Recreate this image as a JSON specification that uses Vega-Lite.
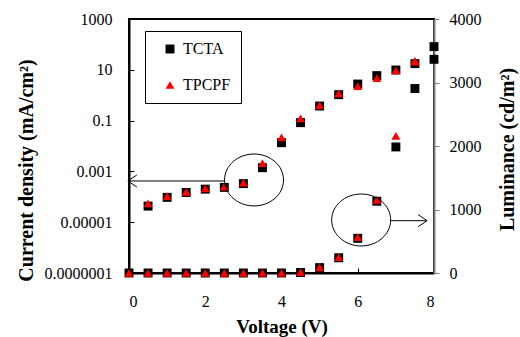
{
  "$schema": "https://vega.github.io/schema/vega-lite/v6.json",
  "width": 305,
  "height": 254,
  "autosize": {"type": "none"},
  "padding": {"left": 129, "top": 19, "right": 86, "bottom": 64},
  "config": {
    "font": "Liberation Serif",
    "view": {"stroke": "black", "strokeWidth": 2},
    "axis": {
      "grid": false,
      "labelFont": "Liberation Serif",
      "labelFontSize": 16,
      "labelColor": "black",
      "titleFont": "Liberation Serif",
      "titleFontSize": 19,
      "titleFontWeight": "bold",
      "titleColor": "black",
      "domainColor": "black",
      "domainWidth": 2,
      "tickColor": "black",
      "tickWidth": 1
    },
    "legend": {
      "title": null,
      "labelFont": "Liberation Serif",
      "labelFontSize": 16,
      "labelColor": "black",
      "strokeColor": "black",
      "fillColor": "white",
      "padding": 10,
      "symbolOffset": 7,
      "rowPadding": 20,
      "symbolSize": 80,
      "symbolStrokeWidth": 0,
      "labelOffset": 5
    }
  },
  "datasets": {
    "current": [
      {"V": 0.5, "J": 4.3e-5, "series": "TCTA"},
      {"V": 1.0, "J": 9.5e-5, "series": "TCTA"},
      {"V": 1.5, "J": 1.48e-4, "series": "TCTA"},
      {"V": 2.0, "J": 2.0e-4, "series": "TCTA"},
      {"V": 2.5, "J": 2.35e-4, "series": "TCTA"},
      {"V": 3.0, "J": 3.3e-4, "series": "TCTA"},
      {"V": 3.5, "J": 1.4e-3, "series": "TCTA"},
      {"V": 4.0, "J": 0.0135, "series": "TCTA"},
      {"V": 4.5, "J": 0.083, "series": "TCTA"},
      {"V": 5.0, "J": 0.376, "series": "TCTA"},
      {"V": 5.5, "J": 1.05, "series": "TCTA"},
      {"V": 6.0, "J": 2.75, "series": "TCTA"},
      {"V": 6.5, "J": 5.9, "series": "TCTA"},
      {"V": 7.0, "J": 9.8, "series": "TCTA"},
      {"V": 7.5, "J": 17.5, "series": "TCTA"},
      {"V": 8.0, "J": 25.9, "series": "TCTA"},
      {"V": 0.5, "J": 5.5e-5, "series": "TPCPF"},
      {"V": 1.0, "J": 1.07e-4, "series": "TPCPF"},
      {"V": 1.5, "J": 1.58e-4, "series": "TPCPF"},
      {"V": 2.0, "J": 2.16e-4, "series": "TPCPF"},
      {"V": 2.5, "J": 2.5e-4, "series": "TPCPF"},
      {"V": 3.0, "J": 3.6e-4, "series": "TPCPF"},
      {"V": 3.5, "J": 2.1e-3, "series": "TPCPF"},
      {"V": 4.0, "J": 0.022, "series": "TPCPF"},
      {"V": 4.5, "J": 0.123, "series": "TPCPF"},
      {"V": 5.0, "J": 0.41, "series": "TPCPF"},
      {"V": 5.5, "J": 1.17, "series": "TPCPF"},
      {"V": 6.0, "J": 2.3, "series": "TPCPF"},
      {"V": 6.5, "J": 4.75, "series": "TPCPF"},
      {"V": 7.0, "J": 9.5, "series": "TPCPF"},
      {"V": 7.5, "J": 21, "series": "TPCPF"}
    ],
    "luminance": [
      {"V": 0.0, "L": 0, "series": "TCTA"},
      {"V": 0.5, "L": 0, "series": "TCTA"},
      {"V": 1.0, "L": 0, "series": "TCTA"},
      {"V": 1.5, "L": 0, "series": "TCTA"},
      {"V": 2.0, "L": 0, "series": "TCTA"},
      {"V": 2.5, "L": 0, "series": "TCTA"},
      {"V": 3.0, "L": 0, "series": "TCTA"},
      {"V": 3.5, "L": 0, "series": "TCTA"},
      {"V": 4.0, "L": 0, "series": "TCTA"},
      {"V": 4.5, "L": 8, "series": "TCTA"},
      {"V": 5.0, "L": 85, "series": "TCTA"},
      {"V": 5.5, "L": 240, "series": "TCTA"},
      {"V": 6.0, "L": 546, "series": "TCTA"},
      {"V": 6.5, "L": 1130, "series": "TCTA"},
      {"V": 7.0, "L": 1985, "series": "TCTA"},
      {"V": 7.5, "L": 2905, "series": "TCTA"},
      {"V": 8.0, "L": 3565, "series": "TCTA"},
      {"V": 0.0, "L": 0, "series": "TPCPF"},
      {"V": 0.5, "L": 0, "series": "TPCPF"},
      {"V": 1.0, "L": 0, "series": "TPCPF"},
      {"V": 1.5, "L": 0, "series": "TPCPF"},
      {"V": 2.0, "L": 0, "series": "TPCPF"},
      {"V": 2.5, "L": 0, "series": "TPCPF"},
      {"V": 3.0, "L": 0, "series": "TPCPF"},
      {"V": 3.5, "L": 0, "series": "TPCPF"},
      {"V": 4.0, "L": 0, "series": "TPCPF"},
      {"V": 4.5, "L": 12, "series": "TPCPF"},
      {"V": 5.0, "L": 90, "series": "TPCPF"},
      {"V": 5.5, "L": 250, "series": "TPCPF"},
      {"V": 6.0, "L": 565, "series": "TPCPF"},
      {"V": 6.5, "L": 1150, "series": "TPCPF"},
      {"V": 7.0, "L": 2160, "series": "TPCPF"},
      {"V": 7.5, "L": 3340, "series": "TPCPF"}
    ],
    "ellipseJ": [{"V": 3.28, "J": 4.6e-4}],
    "arrowJ": [{"V": 2.5, "V2": 0.0, "J": 4.2e-4}],
    "headJ": [{"V": -0.03, "J": 4.2e-4}],
    "ellipseL": [{"V": 6.09, "L": 835}],
    "arrowL": [{"V": 6.87, "V2": 7.8, "L": 824}],
    "headL": [{"V": 7.82, "L": 824}]
  },
  "encoding": {
    "x": {
      "field": "V",
      "type": "quantitative",
      "scale": {"domain": [0, 8], "nice": false, "zero": false},
      "axis": {
        "values": [0, 2, 4, 6, 8],
        "format": "d",
        "tickSize": -5,
        "labelPadding": 25,
        "labelFont": "Liberation Serif",
        "labelFontSize": 16,
        "title": "Voltage (V)",
        "titleFont": "Liberation Serif",
        "titlePadding": 8
      }
    }
  },
  "layer": [
    {
      "encoding": {
        "y": {
          "field": "J",
          "type": "quantitative",
          "scale": {"type": "log", "domain": [1e-7, 1000], "nice": false},
          "axis": {
            "orient": "left",
            "values": [1e-7, 1e-5, 0.001, 0.1, 10, 1000],
            "format": ".7~f",
            "tickSize": -5,
            "labelPadding": 22,
            "labelFont": "Liberation Serif",
            "labelFontSize": 16,
            "title": "Current density (mA/cm²)",
            "titleFont": "Liberation Serif",
            "titleFontSize": 20,
            "titleY": 151,
            "titlePadding": 8
          }
        }
      },
      "layer": [
        {
          "data": {"name": "current"},
          "mark": {"type": "point", "filled": true, "opacity": 1, "size": 80},
          "encoding": {
            "color": {
              "field": "series",
              "type": "nominal",
              "scale": {"domain": ["TCTA", "TPCPF"], "range": ["#000000", "#ff0000"]},
              "legend": {"orient": "none", "legendX": 16, "legendY": 12}
            },
            "shape": {
              "field": "series",
              "type": "nominal",
              "scale": {"domain": ["TCTA", "TPCPF"], "range": ["square", "triangle-up"]},
              "legend": {"orient": "none", "legendX": 16, "legendY": 12}
            }
          }
        },
        {
          "data": {"name": "ellipseJ"},
          "mark": {"type": "point", "shape": "M-1,0C-1,-0.486,-0.552,-0.88,0,-0.88C0.552,-0.88,1,-0.486,1,0C1,0.486,0.552,0.88,0,0.88C-0.552,0.88,-1,0.486,-1,0Z", "size": 3481, "filled": false, "stroke": "black", "strokeWidth": 1, "opacity": 1}
        },
        {
          "data": {"name": "arrowJ"},
          "mark": {"type": "rule", "color": "black", "strokeWidth": 1},
          "encoding": {"x2": {"field": "V2"}}
        },
        {
          "data": {"name": "headJ"},
          "mark": {"type": "point", "shape": "M1.5,-1L0,0L1.5,1", "size": 144, "filled": false, "stroke": "black", "strokeWidth": 1, "opacity": 1}
        }
      ]
    },
    {
      "encoding": {
        "y": {
          "field": "L",
          "type": "quantitative",
          "scale": {"domain": [0, 4000], "nice": false},
          "axis": {
            "orient": "right",
            "values": [0, 1000, 2000, 3000, 4000],
            "format": "d",
            "tickSize": 5,
            "tickColor": "#808080",
            "domainColor": "#808080",
            "domainWidth": 2,
            "labelPadding": 10,
            "labelFont": "Liberation Serif",
            "labelFontSize": 16,
            "title": "Luminance (cd/m²)",
            "titleFont": "Liberation Serif",
            "titleFontSize": 20,
            "titleAngle": 270,
            "titleY": 130,
            "titlePadding": 36
          }
        }
      },
      "layer": [
        {
          "data": {"name": "luminance"},
          "mark": {"type": "point", "filled": true, "opacity": 1, "size": 80},
          "encoding": {
            "color": {
              "field": "series",
              "type": "nominal",
              "scale": {"domain": ["TCTA", "TPCPF"], "range": ["#000000", "#ff0000"]},
              "legend": {"orient": "none", "legendX": 16, "legendY": 12}
            },
            "shape": {
              "field": "series",
              "type": "nominal",
              "scale": {"domain": ["TCTA", "TPCPF"], "range": ["square", "triangle-up"]},
              "legend": {"orient": "none", "legendX": 16, "legendY": 12}
            }
          }
        },
        {
          "data": {"name": "ellipseL"},
          "mark": {"type": "point", "shape": "M-1,0C-1,-0.486,-0.552,-0.88,0,-0.88C0.552,-0.88,1,-0.486,1,0C1,0.486,0.552,0.88,0,0.88C-0.552,0.88,-1,0.486,-1,0Z", "size": 3481, "filled": false, "stroke": "black", "strokeWidth": 1, "opacity": 1}
        },
        {
          "data": {"name": "arrowL"},
          "mark": {"type": "rule", "color": "black", "strokeWidth": 1},
          "encoding": {"x2": {"field": "V2"}}
        },
        {
          "data": {"name": "headL"},
          "mark": {"type": "point", "shape": "M-1.5,-1L0,0L-1.5,1", "size": 144, "filled": false, "stroke": "black", "strokeWidth": 1, "opacity": 1}
        }
      ]
    }
  ],
  "resolve": {"scale": {"y": "independent"}}
}
